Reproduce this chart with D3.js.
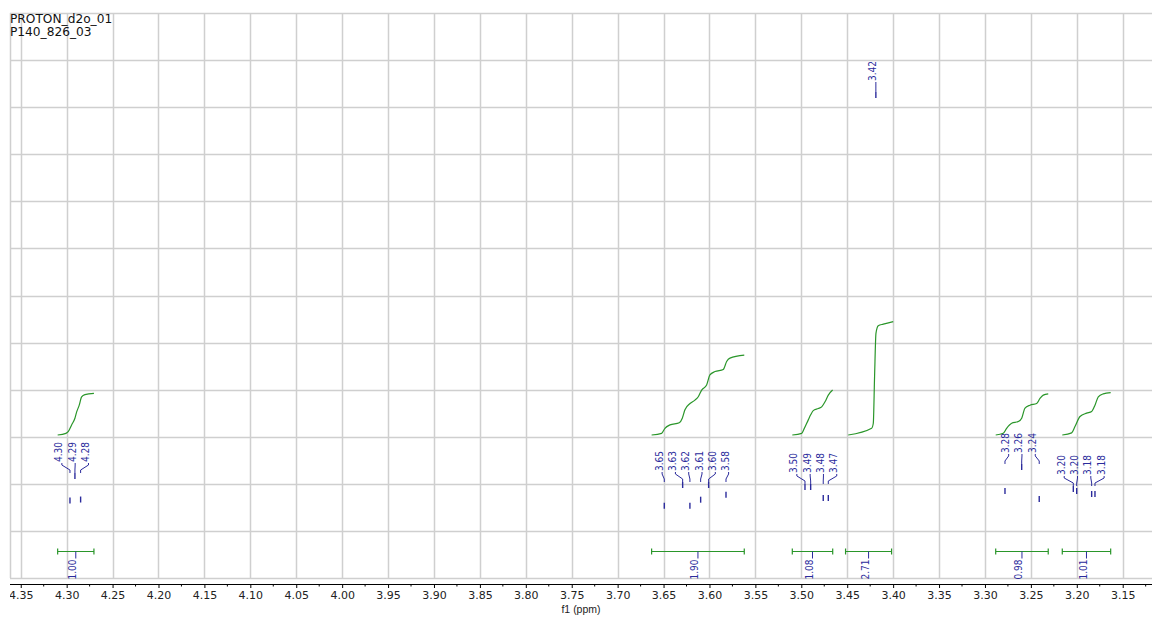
<!DOCTYPE html>
<html><head><meta charset="utf-8">
<script src="https://cdn.jsdelivr.net/npm/d3@7"></script>
<style>body{margin:0;background:#fff}svg{display:block}</style>
</head><body><svg id="c" width="1152" height="617"></svg>
<script>
// ---------- data ----------
const titleLines = ["PROTON_d2o_01", "P140_826_03"];
const axisTitle = "f1 (ppm)";
const xTicks = [4.35,4.30,4.25,4.20,4.15,4.10,4.05,4.00,3.95,3.90,3.85,3.80,3.75,3.70,3.65,3.60,3.55,3.50,3.45,3.40,3.35,3.30,3.25,3.20,3.15];
const xTickLabels = ["4.35","4.30","4.25","4.20","4.15","4.10","4.05","4.00","3.95","3.90","3.85","3.80","3.75","3.70","3.65","3.60","3.55","3.50","3.45","3.40","3.35","3.30","3.25","3.20","3.15"];
const xMinorTicks = [4.325,4.275,4.225,4.175,4.125,4.075,4.025,3.975,3.925,3.875,3.825,3.775,3.725,3.675,3.625,3.575,3.525,3.475,3.425,3.375,3.325,3.275,3.225,3.175,3.125];

// peaks: position (ppm), label, multiplet group, intensity of peak top (0-100 scale)
const peakPPM = [4.2964,4.2910,4.2848, 3.6492,3.6292,3.6213,3.6096,3.6009,3.5820, 3.4960,3.4898,3.4761,3.4706, 3.4188, 3.2782,3.2600,3.2409, 3.2038,3.2001,3.1838,3.1802];
const peakLabels = ["4.30","4.29","4.28", "3.65","3.63","3.62","3.61","3.60","3.58", "3.50","3.49","3.48","3.47", "3.42", "3.28","3.26","3.24", "3.20","3.20","3.18","3.18"];
const peakGroup = [0,0,0, 1,1,1,1,1,1, 2,2,2,2, 3, 4,4,4, 5,5,5,5];
const peakIntensity = [14.25,18.58,14.42, 13.33,16.99,13.33,14.39,16.99,15.27, 16.64,16.64,14.69,14.69, 86.02, 15.93,20.18,14.51, 16.28,15.93,15.40,15.40];

// integrals
const integralValues = [1.00, 1.90, 1.08, 2.71, 0.98, 1.01];
const integralFrom = [4.3098, 3.6630, 3.5098, 3.4518, 3.2883, 3.2158];
const integralTo   = [4.2703, 3.5621, 3.4658, 3.4017, 3.2311, 3.1631];
const integralCurve0 = [[4.3098,0],[4.3008,0.04],[4.2983,0.08],[4.2946,0.24],[4.2910,0.40],[4.2891,0.55],[4.2863,0.71],[4.2837,0.91],[4.2801,0.96],[4.2703,0.99]];
const integralCurve1 = [[3.6630,0],[3.6521,0.04],[3.6485,0.16],[3.6430,0.24],[3.6329,0.29],[3.6296,0.40],[3.6267,0.60],[3.6212,0.75],[3.6158,0.83],[3.6122,0.91],[3.6085,1.07],[3.6031,1.19],[3.5995,1.43],[3.5940,1.51],[3.5850,1.56],[3.5813,1.75],[3.5777,1.83],[3.5621,1.90]];
const integralCurve2 = [[3.5098,0],[3.4996,0.04],[3.4971,0.14],[3.4924,0.36],[3.4898,0.48],[3.4870,0.58],[3.4815,0.63],[3.4778,0.67],[3.4742,0.79],[3.4706,0.95],[3.4659,1.07]];
const integralCurve3 = [[3.4489,0],[3.4234,0.16],[3.4216,0.28],[3.4202,1.40],[3.4187,2.42],[3.4162,2.60],[3.4107,2.64],[3.3999,2.70]];
const integralCurve4 = [[3.2883,0],[3.2801,0.04],[3.2764,0.16],[3.2709,0.28],[3.2637,0.32],[3.2600,0.40],[3.2564,0.64],[3.2510,0.71],[3.2437,0.75],[3.2401,0.87],[3.2365,0.95],[3.2311,0.98]];
const integralCurve5 = [[3.2158,0],[3.2056,0.05],[3.2020,0.20],[3.1965,0.44],[3.1893,0.52],[3.1838,0.56],[3.1802,0.71],[3.1766,0.91],[3.1712,0.98],[3.1631,1.01]];
const integralCurves = [integralCurve0, integralCurve1, integralCurve2, integralCurve3, integralCurve4, integralCurve5];

// ---------- drawing ----------
(function () {
const pL = 10, pR = 1152, pT = 13, pB = 578, axisY = 584;
const svg = d3.select("#c");
const x = d3.scaleLinear().domain([4.3617, 3.1181]).range([pL, pR]);
const y = d3.scaleLinear().domain([0, 100]).range([pB, pT]);      // spectrum intensity
const yGrid = d3.scaleLinear().domain([0, 12]).range([pB, pT]);
const yInt = d3.scaleLinear().domain([0, 1]).range([435, 393]);   // integral curves
const navy = "#2b2b9c", green = "#2a962a", gridC = "#cfcfcf";

// grid
const g = svg.append("g");
g.selectAll("line.h").data(d3.range(0, 13)).join("line")
  .attr("x1", pL).attr("x2", pR)
  .attr("y1", d => Math.round(yGrid(d)) + 0.5).attr("y2", d => Math.round(yGrid(d)) + 0.5)
  .attr("stroke", gridC).attr("stroke-width", 1.5);
g.selectAll("line.v").data(xTicks).join("line")
  .attr("x1", d => Math.round(x(d)) + 0.5).attr("x2", d => Math.round(x(d)) + 0.5)
  .attr("y1", pT).attr("y2", pB)
  .attr("stroke", gridC).attr("stroke-width", 1.5);
g.append("line").attr("x1", pL + 0.5).attr("x2", pL + 0.5).attr("y1", pT).attr("y2", pB)
  .attr("stroke", gridC).attr("stroke-width", 1.5);

// title
svg.selectAll("text.title").data(titleLines).join("text").attr("class", "title")
  .attr("x", 10).attr("y", (d, i) => 23 + i * 12.5)
  .attr("font-family", "DejaVu Sans, sans-serif").attr("font-size", 12.2)
  .attr("fill", "#111").text(d => d);

// x axis
svg.append("defs").append("clipPath").attr("id", "axclip")
  .append("rect").attr("x", pL).attr("y", -10).attr("width", pR - pL).attr("height", 40);
const ax = svg.append("g").attr("transform", `translate(0,${axisY})`).attr("clip-path", "url(#axclip)");
ax.call(d3.axisBottom(x).tickValues(xTicks).tickFormat((d, i) => xTickLabels[i]).tickSize(4).tickPadding(3));
ax.select(".domain").attr("d", `M${pL},0.5H${pR}`).attr("stroke", "#000");
ax.selectAll(".tick text").attr("font-family", "DejaVu Sans, sans-serif").attr("font-size", 11).attr("fill", "#222");
ax.selectAll(".tick line").attr("stroke", "#000");
ax.selectAll("line.minor").data(xMinorTicks).join("line").attr("class", "minor")
  .attr("x1", d => x(d)).attr("x2", d => x(d)).attr("y1", 0).attr("y2", 2.5).attr("stroke", "#000");
svg.append("text").attr("x", (pL + pR) / 2).attr("y", 613).attr("text-anchor", "middle")
  .attr("font-family", "Liberation Sans, Arial, sans-serif").attr("font-size", 10.5).attr("fill", "#222").text(axisTitle);

// peaks and labels
const peaks = peakPPM.map((p, i) => ({ppm: p, label: peakLabels[i], group: peakGroup[i], px: x(p), tipY: y(peakIntensity[i])}));
const groups = d3.groups(peaks, d => d.group);
const step = 13.3;
const labelFont = "Liberation Sans Narrow, DejaVu Sans Condensed, Arial Narrow, sans-serif";
const pg = svg.append("g");
groups.forEach(([k, arr]) => {
  arr.sort((a, b) => a.px - b.px);
  const mean = d3.mean(arr, d => d.px);
  const groupTop = d3.min(arr, d => d.tipY);
  const lb = groupTop - 11;
  arr.forEach((d, i) => {
    const lx = mean + (i - (arr.length - 1) / 2) * step;
    const yb = Math.min(lb + 8, groupTop);
    pg.append("path")
      .attr("d", `M${lx},${lb + 1}L${lx},${lb + 3}L${d.px},${yb}L${d.px},${groupTop}`)
      .attr("fill", "none").attr("stroke", navy).attr("stroke-width", 1);
    pg.append("line").attr("x1", d.px).attr("x2", d.px).attr("y1", d.tipY).attr("y2", d.tipY + 6)
      .attr("stroke", navy).attr("stroke-width", 1.4);
    pg.append("text").attr("x", lx + 0.5).attr("y", lb)
      .attr("transform", `rotate(-90,${lx + 0.5},${lb})`)
      .attr("font-family", labelFont).attr("font-size", 10).attr("fill", navy).text(d.label);
  });
});

// integrals
const line = d3.line().x(d => x(d[0])).y(d => yInt(d[1])).curve(d3.curveMonotoneX);
const ig = svg.append("g");
integralCurves.forEach(c => {
  ig.append("path").attr("d", line(c)).attr("fill", "none").attr("stroke", green).attr("stroke-width", 1.2);
});
const by = 551.5;
integralValues.forEach((v, i) => {
  const x1 = x(integralFrom[i]), x2 = x(integralTo[i]), cx = (x1 + x2) / 2;
  ig.append("path").attr("d", `M${x1},${by - 3}V${by + 3}M${x1},${by}H${x2}M${x2},${by - 3}V${by + 3}`)
    .attr("fill", "none").attr("stroke", green).attr("stroke-width", 1.2);
  ig.append("line").attr("x1", cx).attr("x2", cx).attr("y1", by).attr("y2", by + 7)
    .attr("stroke", navy).attr("stroke-width", 1);
  ig.append("text").attr("x", cx + 0.5).attr("y", by + 8)
    .attr("transform", `rotate(-90,${cx + 0.5},${by + 8})`).attr("text-anchor", "end")
    .attr("font-family", labelFont).attr("font-size", 10).attr("fill", navy)
    .text(d3.format(".2f")(v));
});
})();
</script></body></html>
